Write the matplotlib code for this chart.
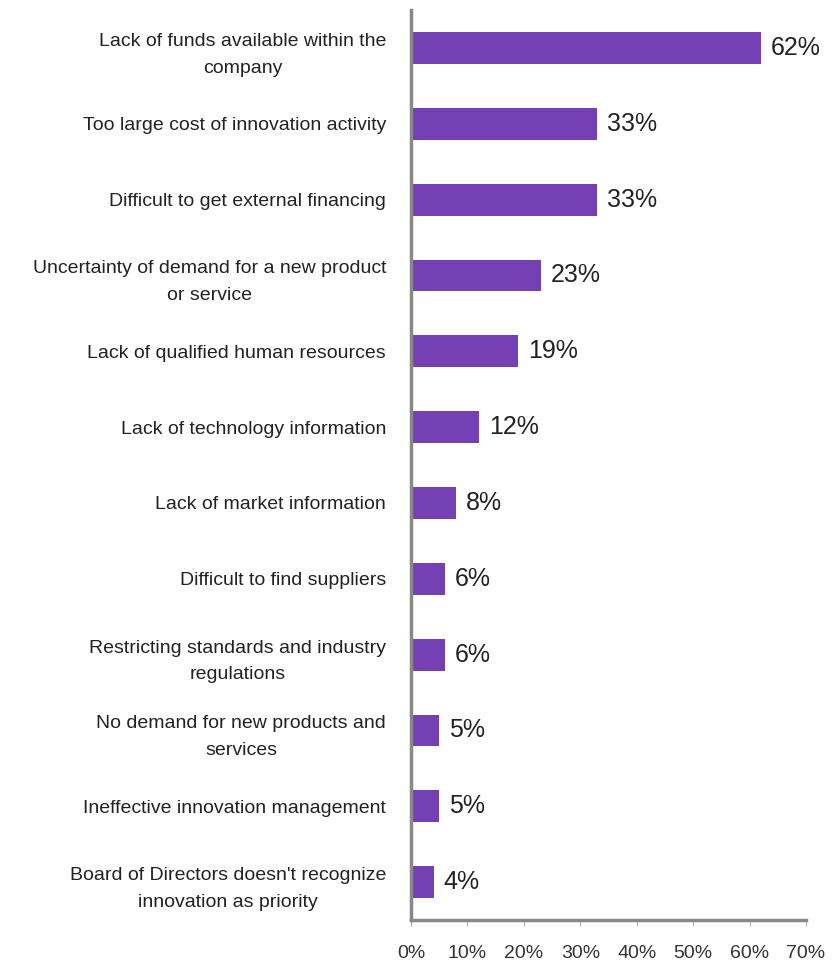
import matplotlib
matplotlib.use('Agg')
import matplotlib.pyplot as plt

categories = ['Lack of funds available within the\ncompany',
              'Too large cost of innovation activity',
              'Difficult to get external financing',
              'Uncertainty of demand for a new product\nor service',
              'Lack of qualified human resources',
              'Lack of technology information',
              'Lack of market information',
              'Difficult to find suppliers',
              'Restricting standards and industry\nregulations',
              'No demand for new products and\nservices',
              'Ineffective innovation management',
              'Board of Directors doesn\'t recognize\ninnovation as priority']
values = [62, 33, 33, 23, 19, 12, 8, 6, 6, 5, 5, 4]
xticks = [0, 10, 20, 30, 40, 50, 60, 70]
xlabels = ['0%', '10%', '20%', '30%', '40%', '50%', '60%', '70%']

plt.rcParams['font.family'] = ['Liberation Sans', 'DejaVu Sans']

fig = plt.figure(figsize=(8.38, 9.74), dpi=100)
ax = fig.add_axes([0.4905, 0.0554, 0.4713, 0.9343])

pos = list(range(len(values)))
ax.barh(pos, values, height=0.42, color='#7540b4', zorder=2)
for y, v in zip(pos, values):
    ax.text(v + 1.8, y, '%d%%' % v, va='center', ha='left', fontsize=18, color='#222222')

ax.set_ylim(len(values) - 0.5, -0.5)
ax.set_xlim(0, 70)
ax.set_yticks(pos)
ax.set_yticklabels(categories, fontsize=14, multialignment='center',
                   linespacing=1.75, color='#222222')
ax.set_xticks(xticks)
ax.set_xticklabels(xlabels, fontsize=14, color='#333333')

for s in ['top', 'right']:
    ax.spines[s].set_visible(False)
for s in ['left', 'bottom']:
    ax.spines[s].set_color('#888888')
    ax.spines[s].set_linewidth(2.5)
ax.tick_params(axis='y', length=0, pad=18)
ax.tick_params(axis='x', length=4, color='#aaaaaa', pad=14)

fig.savefig('out.png', dpi=100)
